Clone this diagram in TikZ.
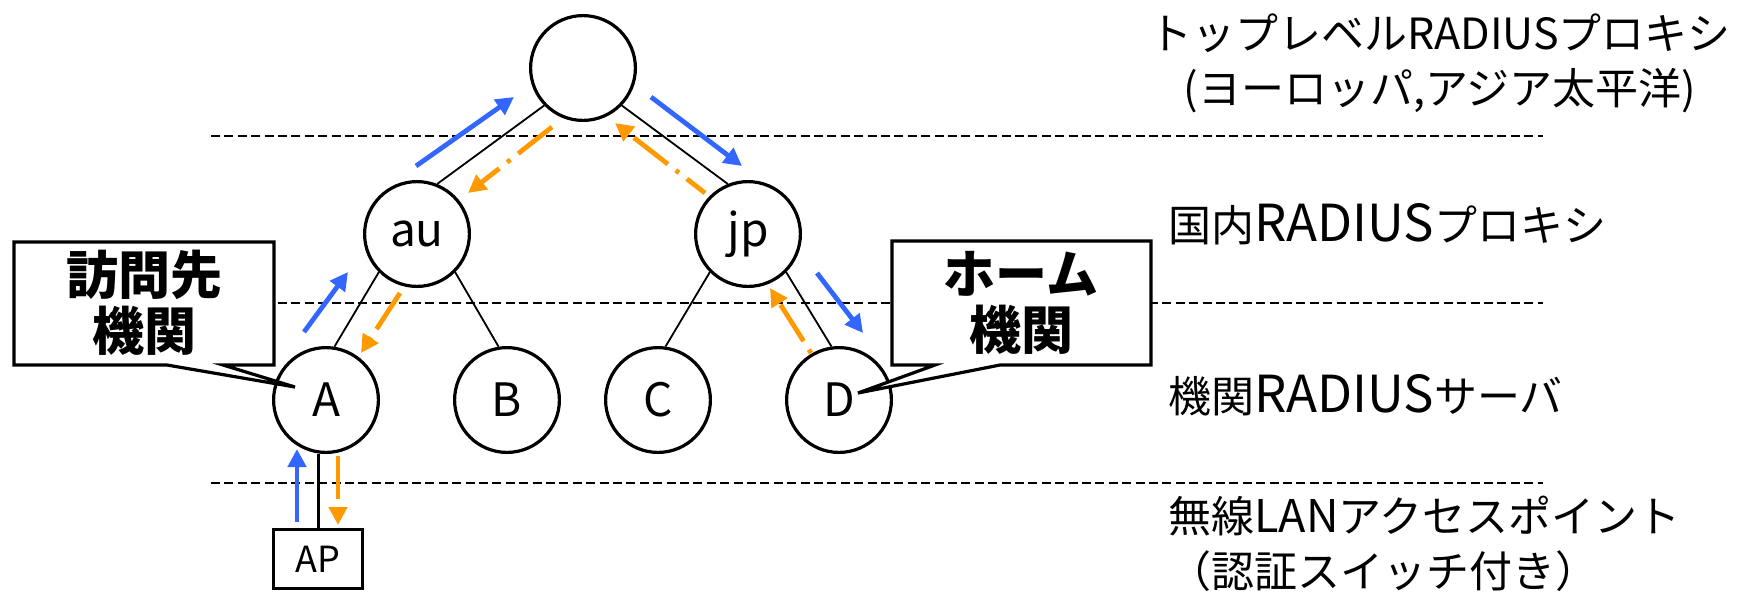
\documentclass[tikz,border=0pt]{standalone}
\usepackage{fontspec}
\setmainfont{Noto Sans CJK JP}
\usetikzlibrary{arrows.meta,calc}
\definecolor{reqblue}{HTML}{3366FF}
\definecolor{resorange}{HTML}{FF9900}
\newcommand\bigLatin[2][25.5pt]{{\fontsize{#1}{#1}\selectfont #2}}

\begin{document}
\begin{tikzpicture}[x=0.5pt,y=-0.5pt,
        server/.style={circle,draw,line width=1.6pt,minimum size=52.4pt,inner sep=0pt,
            font=\fontsize{23pt}{23pt}\selectfont},
        apbox/.style={rectangle,draw,line width=1.5pt,minimum width=44.5pt,minimum height=29.5pt,
            inner sep=0pt,font=\fontsize{18pt}{18pt}\selectfont},
        tree/.style={line width=0.9pt},
        level/.style={line width=0.6pt,dash pattern=on 4.5pt off 2.2pt},
        req/.style={reqblue,line width=2.4pt,-{Triangle[length=9pt,width=9pt]}},
        res/.style={resorange,line width=2.4pt,dash pattern=on 21.5pt off 5pt on 2pt off 5pt,
            -{Triangle[length=9pt,width=9pt]}},
        callout/.style={draw,fill=white,line width=1.6pt},
        calltext/.style={align=center,inner sep=0pt,font=\fontsize{26pt}{28pt}\selectfont\bfseries},
        tier/.style={inner sep=0pt,font=\fontsize{21.5pt}{27.5pt}\selectfont}]
    \useasboundingbox (0,0) rectangle (1738,591);

    % levels
    \foreach \y in {136,303,483}
        \draw[level] (211,\y) -- (1543,\y);

    % servers
    \node[server] (top) at (583,68) {};
    \node[server] (au) at (417,234) {au};
    \node[server] (jp) at (748,234) {jp};
    \node[server] (A) at (326,400) {A};
    \node[server] (B) at (507,400) {B};
    \node[server] (C) at (658,400) {C};
    \node[server] (D) at (839,400) {D};
    \node[apbox] (AP) at (318,559) {AP};

    \draw[tree] (top.224) -- (au.68);
    \draw[tree] (top.316) -- (jp.112);
    \draw[tree] (au.225) -- (A.81);
    \draw[tree] (au.315) -- (B.99);
    \draw[tree] (jp.225) -- (C.82);
    \draw[tree] (jp.315) -- (D.98);
    \draw[line width=1.5pt] (AP.north) -- (AP.north |- A.south);

    % callouts
    \draw[callout] (14,242) -- (274,242) -- (274,365) -- (223,365) -- ($(A)+(-31,-13)$) -- (167,365) -- (14,365) -- cycle;
    \node[calltext] (visit) at (144,303) {訪問先\\機関};
    \draw[callout] (892,241) -- (1151,241) -- (1151,365) -- (1000,365) -- ($(D)+(19,-7)$) -- (935,365) -- (892,365) -- cycle;
    \node[calltext] (home) at (1021,303) {ホーム\\機関};

    % requests
    \draw[req] ($(AP)+(-21,-37)$) -- ($(A)+(-29,49)$);
    \draw[req] ($(A)+(-22,-68)$) -- ($(au)+(-69,38)$);
    \draw[req] ($(au)+(-1,-68)$) -- ($(top)+(-69,29)$);
    \draw[req] ($(top)+(68,29)$) -- ($(jp)+(-6,-68)$);
    \draw[req] ($(jp)+(69,39)$) -- ($(D)+(24,-67)$);

    % responses
    \draw[res,dash phase=26.5pt] ($(D)+(-28,-47)$) -- ($(jp)+(22,54)$);
    \draw[res,dash phase=10pt] ($(jp)+(-43,-41)$) -- ($(top)+(32,55)$);
    \draw[res] ($(top)+(-31,59)$) -- ($(au)+(51,-41)$);
    \draw[res] ($(au)+(-17,59)$) -- ($(A)+(35,-47)$);
    \draw[res] ($(A)+(12,56)$) -- ($(AP)+(20,-34)$);

    % tiers
    \node[tier,align=center] (toplabel) at (1440,63) {トップレベルRADIUSプロキシ\\(ヨーロッパ,アジア太平洋)};
    \node[tier,anchor=west] (nationlabel) at (1168,224) {国内\bigLatin{RADIUS}プロキシ};
    \node[tier,anchor=west] (orglabel) at (1168,395) {機関\bigLatin{RADIUS}サーバ};
    \node[tier,anchor=west,align=left] (aplabel) at (1168,544) {無線\bigLatin[22.5pt]{LAN}アクセスポイント\\（認証スイッチ付き）};
\end{tikzpicture}
\end{document}
